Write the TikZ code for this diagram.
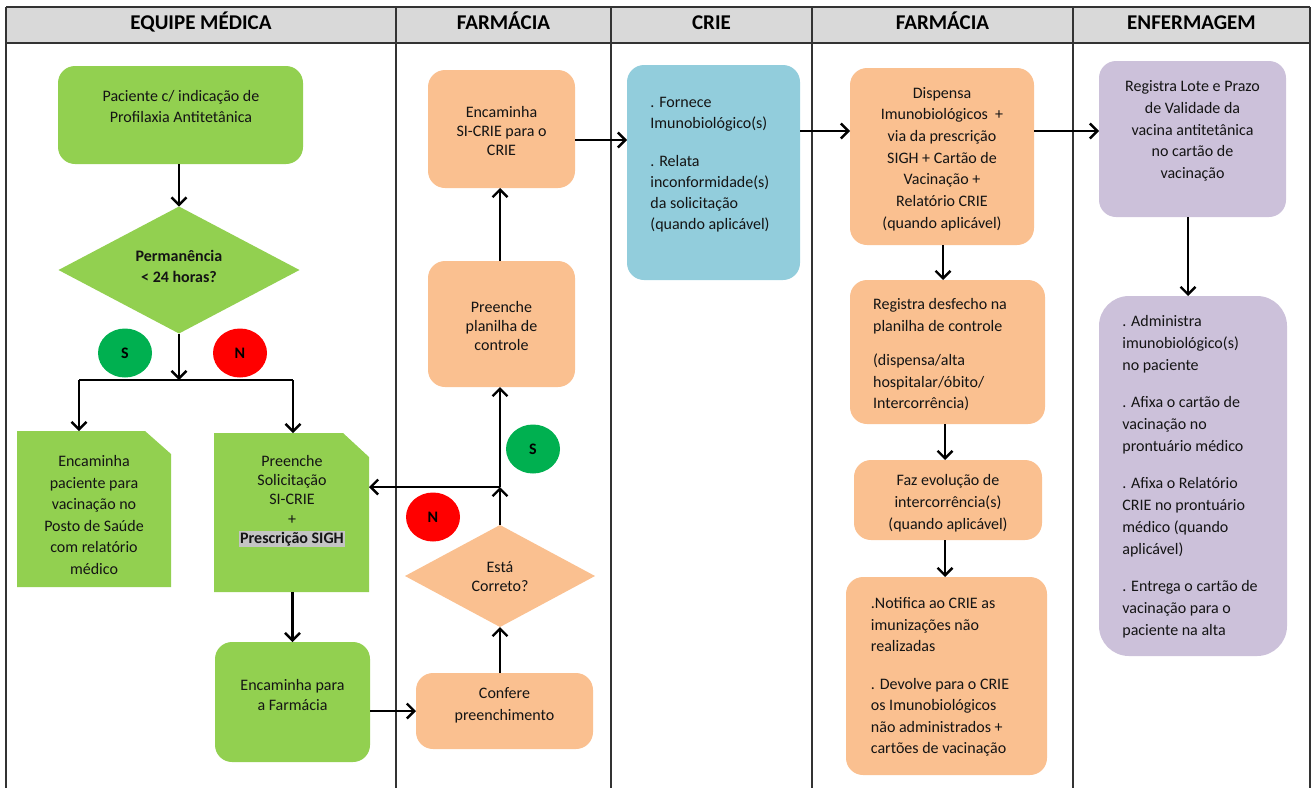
\documentclass[tikz,border=0pt]{standalone}
\usepackage{fontspec}
\setmainfont{Carlito}
\usetikzlibrary{arrows.meta,shapes.geometric,calc}
\definecolor{grn}{HTML}{92D050}
\definecolor{org}{HTML}{FAC090}
\definecolor{blu}{HTML}{92CDDC}
\definecolor{pur}{HTML}{CCC1DA}
\definecolor{sgrn}{HTML}{00B050}
\definecolor{nred}{HTML}{FF0000}
\definecolor{hdr}{HTML}{D9D9D9}
\definecolor{hl}{HTML}{C4C4C4}
\definecolor{txt}{HTML}{141414}
\definecolor{grid}{HTML}{333333}
\begin{document}
\begin{tikzpicture}[x=1pt,y=-1pt,
  font=\fontsize{16}{21}\selectfont, text=txt,
  shp/.style={inner sep=0pt, outer sep=0pt},
  rb/.style={shp, rounded corners=17pt},
  txtn/.style={inner sep=0pt, align=center},
  txtl/.style={inner sep=0pt, align=left},
  dia/.style={shp, diamond, aspect=1.9, fill=#1},
  circ/.style={ellipse, shp, minimum width=54pt, minimum height=49pt, fill=#1, font=\fontsize{16}{20}\selectfont\bfseries, text=black},
  hd/.style={font=\fontsize{21}{24}\selectfont\bfseries, text=black, inner sep=0pt, anchor=base},
  arr/.style={line width=2.6pt, -{Straight Barb[length=7.5pt,width=15pt,line width=2.4pt]}},
  ln/.style={line width=2.6pt},
  grd/.style={draw=grid, line width=1.2pt}]
\useasboundingbox (0,0) rectangle (1311,788);
% table
\fill[hdr] (6,7) rectangle (1310,43);
\draw[grd] (6,7) -- (1310,7);
\draw[grd] (6,43) -- (1310,43);
\foreach \xx in {6,396,611,812,1073,1310}{\draw[grd] (\xx,7) -- (\xx,788);}
\node[hd] (h1) at (201,29) {EQUIPE MÉDICA};
\node[hd] (h2) at (503.5,29) {FARMÁCIA};
\node[hd] (h3) at (711.5,29) {CRIE};
\node[hd] (h4) at (942.5,29) {FARMÁCIA};
\node[hd] (h5) at (1191.5,29) {ENFERMAGEM};

% EQUIPE MEDICA
\node[rb, fill=grn, minimum width=245pt, minimum height=98pt] (A) at (180.5,115) {};
\node[txtn] (At) at (181,106) {Paciente c/ indicação de\\Profilaxia Antitetânica};
\node[dia=grn, minimum width=241pt, minimum height=127pt] (D1) at (179,270) {};
\node[txtn, font=\fontsize{16}{21}\selectfont\bfseries] (D1t) at (179,266) {Permanência\\< 24 horas?};
\node[circ=sgrn] (S1) at (125,353) {S};
\node[circ=nred] (N1) at (240,353) {N};

\node[shp, minimum width=154pt, minimum height=156pt] (B) at (94,509) {};
\fill[grn] (B.north west) -- ($(B.north east)+(-26,0)$) -- ($(B.north east)+(0,23)$) -- (B.south east) -- (B.south west) -- cycle;
\node[txtn, font=\fontsize{16}{21.6}\selectfont] (Bt) at (94,515) {Encaminha\\paciente para\\vacinação no\\Posto de Saúde\\com relatório\\médico};

\node[shp, minimum width=155pt, minimum height=159pt] (C) at (291.5,512.5) {};
\fill[grn] (C.north west) -- ($(C.north east)+(-26,0)$) -- ($(C.north east)+(0,24)$) -- (C.south east) -- (C.south west) -- cycle;
\node[txtn, font=\fontsize{16}{19.3}\selectfont] (Ct) at (292,501) {Preenche\\Solicitação\\SI-CRIE\\+\\{\setlength\fboxsep{1pt}\colorbox{hl}{\textbf{Prescrição SIGH}}}};

\node[rb, fill=grn, minimum width=155pt, minimum height=120pt] (D) at (292.5,702) {};
\node[txtn, font=\fontsize{16}{20}\selectfont] (Dt) at (292.5,695) {Encaminha para\\a Farmácia};

% FARMACIA 1
\node[rb, fill=org, minimum width=177pt, minimum height=76pt] (E) at (504.5,711) {};
\node[txtn, font=\fontsize{16}{22}\selectfont] (Et) at (504.5,705) {Confere\\preenchimento};
\node[dia=org, minimum width=190pt, minimum height=102pt] (F) at (500,576) {};
\node[txtn, font=\fontsize{16}{19}\selectfont] (Ft) at (500,577) {Está\\Correto?};
\node[circ=sgrn] (S2) at (533,449) {S};
\node[circ=nred] (N2) at (433,517) {N};
\node[rb, fill=org, minimum width=147pt, minimum height=126pt] (G) at (501.5,324) {};
\node[txtn, font=\fontsize{16}{19}\selectfont] (Gt) at (501.5,326) {Preenche\\planilha de\\controle};
\node[rb, fill=org, minimum width=147pt, minimum height=118pt] (H) at (501.5,129) {};
\node[txtn, font=\fontsize{16}{19}\selectfont] (Ht) at (501.5,131) {Encaminha\\SI-CRIE para o\\CRIE};

% CRIE
\node[rb, fill=blu, minimum width=173pt, minimum height=215pt] (I) at (713.5,172.5) {};
\node[txtl, font=\fontsize{16}{21}\selectfont] (It) at (710,165) {. Fornece\\Imunobiológico(s)\\[17pt]. Relata\\inconformidade(s)\\da solicitação\\(quando aplicável)};

% FARMACIA 2
\node[rb, fill=org, minimum width=184pt, minimum height=177pt] (J) at (942,156.5) {};
\node[txtn, font=\fontsize{16}{21.7}\selectfont] (Jt) at (942,159) {Dispensa\\Imunobiológicos~ +\\via da prescrição\\SIGH + Cartão de\\Vacinação +\\Relatório CRIE\\(quando aplicável)};
\node[rb, fill=org, minimum width=195pt, minimum height=144pt] (M) at (947.5,352) {};
\node[txtl, font=\fontsize{16}{21.5}\selectfont] (Mt) at (940,355) {Registra desfecho na\\planilha de controle\\[13pt](dispensa/alta\\hospitalar/óbito/\\Intercorrência)};
\node[rb, fill=org, minimum width=188pt, minimum height=80pt] (N) at (948,500) {};
\node[txtn, font=\fontsize{16}{22}\selectfont] (Nt) at (948,503) {Faz evolução de\\intercorrência(s)\\(quando aplicável)};
\node[rb, fill=org, minimum width=201pt, minimum height=198pt] (O) at (946.5,676) {};
\node[txtl, font=\fontsize{16}{21.5}\selectfont] (Ot) at (940,677) {.Notifica ao CRIE as\\imunizações não\\realizadas\\[16pt]. Devolve para o CRIE\\os Imunobiológicos\\não administrados +\\cartões de vacinação};

% ENFERMAGEM
\node[rb, fill=pur, minimum width=187pt, minimum height=156pt] (K) at (1192.5,139) {};
\node[txtn, font=\fontsize{16}{21.75}\selectfont] (Kt) at (1192.5,131) {Registra Lote e Prazo\\de Validade da\\vacina antitetânica\\no cartão de\\vacinação};
\node[shp, rounded corners=30pt, fill=pur, minimum width=188pt, minimum height=360pt] (L) at (1193,476) {};
\node[txtl, font=\fontsize{16}{22}\selectfont] (Lt) at (1190,477) {. Administra\\imunobiológico(s)\\no paciente\\[15pt]. Afixa o cartão de\\vacinação no\\prontuário médico\\[15pt]. Afixa o Relatório\\CRIE no prontuário\\médico (quando\\aplicável)\\[15pt]. Entrega o cartão de\\vacinação para o\\paciente na alta};

% connectors
\coordinate (j1) at (179,380);
\coordinate (jl) at (79,380);
\coordinate (jr) at (293,380);
\coordinate (jf) at (500,487);
\coordinate (hI) at (575,140);
\coordinate (iJ) at (800,131);
\coordinate (jK) at (1034,131);
\coordinate (kL) at (1188,217);
\coordinate (jM) at (943,245);
\coordinate (mN) at (945,424);
\coordinate (nO) at (945,540);
\draw[arr] (A.south -| D1.north) -- (D1.north);
\draw[arr] (D1.south) -- (j1);
\draw[ln] (jl) -- (jr);
\draw[arr] (jl) -- (jl |- B.north);
\draw[arr] (jr) -- (jr |- C.north);
\draw[arr] (C.south -| D.north) -- (D.north);
\draw[arr] (D.east |- E.west) -- (E.west);
\draw[arr] (F.south |- E.north) -- (F.south);
\draw[arr] (F.north) -- (jf);
\draw[arr] (jf) -- (jf |- G.south);
\draw[arr] (jf) -- (jf -| C.east);
\draw[arr] (G.north -| jf) -- (jf |- H.south);
\draw[arr] (hI) -- (hI -| I.west);
\draw[arr] (iJ) -- (iJ -| J.west);
\draw[arr] (jK) -- (jK -| K.west);
\draw[arr] (kL) -- (kL |- L.north);
\draw[arr] (jM) -- (jM |- M.north);
\draw[arr] (mN) -- (mN |- N.north);
\draw[arr] (nO) -- (nO |- O.north);
\end{tikzpicture}
\end{document}
